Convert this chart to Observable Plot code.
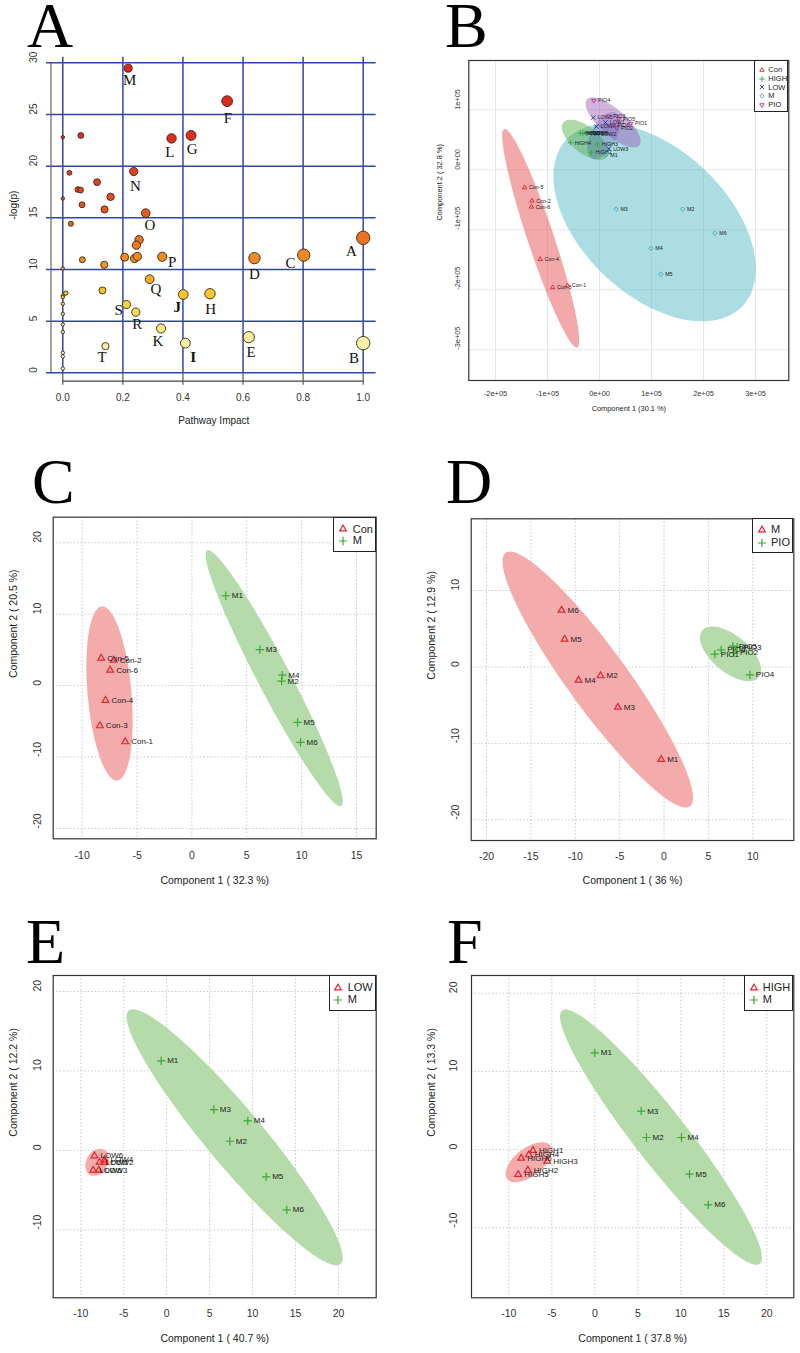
<!DOCTYPE html>
<html>
<head>
<meta charset="utf-8">
<script src="https://cdn.jsdelivr.net/npm/d3@7"></script>
<script src="https://cdn.jsdelivr.net/npm/@observablehq/plot@0.6"></script>
<style>
  body { margin: 0; background: #fff; }
  #page { position: relative; width: 800px; height: 1353px; overflow: hidden; background: #fff;
          font-family: "Liberation Sans", Arial, Helvetica, sans-serif; }
  .letter { position: absolute; font-family: "Liberation Serif", "Times New Roman", serif;
            font-size: 64px; line-height: 50px; color: #000; }
  .legend { position: absolute; box-sizing: border-box; border: 1.2px solid #222; background: #fff; }
  .legend span { position: absolute; white-space: nowrap; color: #222; line-height: 1; }
  .legend svg { position: absolute; overflow: visible; }
</style>
</head>
<body>
<div id="page"></div>
<script>
// ======================= DATA =======================
// Panel A: pathway analysis bubbles
const pathNames   = ["M","F","L","G","N","O","A","C","D","P","Q","J","H","S","R","K","E","I","B","T"];
const pathImpact  = [0.2175,0.547,0.362,0.427,0.236,0.276,1.0,0.802,0.638,0.331,0.289,0.401,0.49,0.212,0.243,0.327,0.619,0.408,1.0,0.142];
const pathLogP    = [29.48,26.29,22.68,22.97,19.48,15.45,13.06,11.39,11.1,11.23,9.06,7.58,7.65,6.61,5.87,4.29,3.45,2.87,2.87,2.58];
const pathLabelX  = [0.223,0.550,0.356,0.431,0.242,0.29,0.961,0.758,0.638,0.364,0.31,0.381,0.492,0.186,0.248,0.317,0.627,0.434,0.969,0.131];
const pathLabelY  = [28.29,24.68,21.35,21.68,18.1,14.32,11.77,10.65,9.58,10.71,8.1,6.35,6.19,6.1,4.68,3.03,2.0,1.52,1.45,1.52];
const boldLabels  = ["I","J"];
const otherImpact = [0,0.06,0.022,0.114,0.05,0.059,0.159,0,0.064,0.139,0.027,0.254,0.245,0.206,0.239,0.248,0.065,0.138,0,0.132,0.01,0,0,0,0,0,0,0,0,0];
const otherLogP   = [22.8,22.97,19.35,18.45,17.74,17.68,17.03,16.87,16.26,15.81,14.42,12.87,12.35,11.19,11.06,11.26,10.94,10.45,10.1,7.97,7.71,7.48,7.32,6.68,5.71,4.68,3.94,1.94,1.58,0.42];
const aXTicks = [0, 0.2, 0.4, 0.6, 0.8, 1.0];
const aYTicks = [0, 5, 10, 15, 20, 25, 30];

// Panel B: PCA of all five groups
const bConName  = ["Con-1","Con-2","Con-3","Con-4","Con-5","Con-6"];
const bConX     = [-61500,-130000,-90000,-114000,-144000,-131000];
const bConY     = [-193000,-51700,-196000,-149000,-29500,-61700];
const bHighName = ["HIGH1","HIGH2","HIGH3","HIGH4","HIGH5","HIGH6"];
const bHighX    = [-37000,-16000,-4000,-56000,-32000,-25000];
const bHighY    = [61000,29000,43000,45000,61000,61000];
const bLowName  = ["LOW1","LOW2","LOW3","LOW4","LOW5","LOW6"];
const bLowX     = [11500,-5000,18000,-6000,-12000,-20000];
const bLowY     = [79000,60000,35000,72000,87000,61000];
const bMName    = ["M1","M2","M3","M4","M5","M6"];
const bMX       = [12500,160000,32000,99000,118000,222000];
const bMY       = [25000,-65700,-65700,-131000,-174000,-106000];
const bPioName  = ["PIO1","PIO2","PIO3","PIO4","PIO5","PIO6"];
const bPioX     = [60000,33000,18000,-11000,37000,26000];
const bPioY     = [77000,70000,89000,115500,85000,74000];
const bXTicks = [-200000,-100000,0,100000,200000,300000];
const bXTickLabels = ["-2e+05","-1e+05","0e+00","1e+05","2e+05","3e+05"];
const bYTicks = [100000,0,-100000,-200000,-300000];
const bYTickLabels = ["1e+05","0e+00","-1e+05","-2e+05","-3e+05"];
// ellipses: [centerX, centerY, axis1 endX, axis1 endY, axis2 endX, axis2 endY]
const bEllCon  = [-113000,-114000,-183000,68000,-89000,-107000];
const bEllHigh = [-28000,50000,13500,21000,-44000,33000];
const bEllLow  = [8000,57000,21000,96000,-21000,52000];
const bEllM    = [106000,-88000,275000,-227000,9600,-176000];
const bEllPio  = [26000,79000,76000,40500,9000,63000];

// Panel C: Con vs M
const cConName = ["Con-1","Con-2","Con-3","Con-4","Con-5","Con-6"];
const cConX    = [-6.08,-7.12,-8.39,-7.88,-8.27,-7.45];
const cConY    = [-7.86,3.57,-5.62,-2.07,3.85,2.17];
const cMName   = ["M1","M2","M3","M4","M5","M6"];
const cMX      = [3.09,8.17,6.19,8.23,9.63,9.9];
const cMY      = [12.59,0.63,5.03,1.47,-5.15,-7.95];
const cXTicks  = [-10,-5,0,5,10,15];
const cYTicks  = [-20,-10,0,10,20];
const cEllCon  = [-7.51,-1.09,-8.21,11.09,-5.52,-0.83];
const cEllM    = [7.5,1.04,1.39,18.94,8.82,2.09];

// Panel D: M vs PIO
const dMName   = ["M1","M2","M3","M4","M5","M6"];
const dMX      = [-0.32,-7.15,-5.2,-9.63,-11.21,-11.55];
const dMY      = [-12.11,-1.16,-5.27,-1.74,3.62,7.42];
const dPioName = ["PIO1","PIO2","PIO3","PIO4","PIO5","PIO6"];
const dPioX    = [5.72,7.87,8.24,9.67,7.75,6.44];
const dPioY    = [1.67,1.84,2.58,-1.04,2.71,2.23];
const dXTicks  = [-20,-15,-10,-5,0,5,10];
const dYTicks  = [-20,-10,0,10];
const dEllM    = [-7.47,-1.65,-17.85,14.93,-4.74,0.67];
const dEllPio  = [7.49,1.71,10.68,-1.35,8.8,3.56];

// Panel E: LOW vs M
const eLowName = ["LOW1","LOW2","LOW3","LOW4","LOW5","LOW6"];
const eLowX    = [-7.82,-7.2,-7.9,-7.24,-8.56,-8.41];
const eLowY    = [-1.5,-1.5,-2.5,-1.2,-2.5,-0.7];
const eMName   = ["M1","M2","M3","M4","M5","M6"];
const eMX      = [-0.64,7.35,5.49,9.44,11.58,13.98];
const eMY      = [11.27,1.15,5.14,3.71,-3.34,-7.49];
const eXTicks  = [-10,-5,0,5,10,15,20];
const eYTicks  = [-10,0,10,20];
const eEllLow  = [-8.1,-1.5,-7.6,0.2,-6.82,-1.69];
const eEllM    = [7.91,1.65,-4.41,17.6,10.45,3.94];

// Panel F: HIGH vs M
const fHighName = ["HIGH1","HIGH2","HIGH3","HIGH4","HIGH5","HIGH6"];
const fHighX    = [-7.2,-7.79,-5.54,-7.67,-8.91,-8.56];
const fHighY    = [-0.12,-2.63,-1.48,-0.67,-3.18,-1.1];
const fMName    = ["M1","M2","M3","M4","M5","M6"];
const fMX       = [0,6.01,5.39,10.08,11.01,13.19];
const fMY       = [12.37,1.55,4.91,1.55,-3.14,-7.06];
const fXTicks   = [-10,-5,0,5,10,15,20];
const fYTicks   = [-10,0,10,20];
const fEllHigh  = [-7.67,-1.61,-5.15,0.52,-6.68,-3.03];
const fEllM     = [7.7,1.59,-3.79,17.78,10.12,3.66];

// ======================= STYLE =======================
const FONT  = "'Liberation Sans', Arial, Helvetica, sans-serif";
const SERIF = "'Liberation Serif', 'Times New Roman', serif";
const RED = "#E0262F", GREEN = "#3BA935", NAVY = "#28338A", TEAL = "#33A8B8", MAG = "#A8329C";
const PINK_FILL = "#F3ABAC", LGREEN_FILL = "#B4DBA9";
const aColorStops = [0, 3, 4.5, 6.5, 7.6, 9, 11, 13, 15.5, 18, 22, 30];
const aColorRange = ["#FFFFF0","#F9F1A6","#F7E57A","#F6D746","#F5C92C","#F2AF28","#EE8D24","#EA7421","#E65B1F","#E3461E","#DE2F1E","#DC231B"];

const page = document.getElementById("page");
function place(node, ox, oy) {
  node.style.position = "absolute";
  node.style.left = ox + "px";
  node.style.top = oy + "px";
  node.style.maxWidth = "none";
  page.appendChild(node);
}
function letter(t, left, top) {
  const d = document.createElement("div");
  d.className = "letter"; d.textContent = t;
  d.style.left = left + "px"; d.style.top = top + "px";
  page.appendChild(d);
}
function ellipsePts([cx, cy, ax, ay, bx, by]) {
  return d3.range(0, 360, 3).map(deg => {
    const t = deg * Math.PI / 180;
    return {x: cx + (ax - cx) * Math.cos(t) + (bx - cx) * Math.sin(t),
            y: cy + (ay - cy) * Math.cos(t) + (by - cy) * Math.sin(t)};
  });
}
const symType = {
  triangle2: d3.symbolTriangle2 || d3.symbolTriangle,
  plus: d3.symbolPlus || d3.symbolCross,
  times: d3.symbolTimes || d3.symbolCross,
  diamond2: d3.symbolDiamond2 || d3.symbolDiamond
};
function legend(c) {
  const box = document.createElement("div");
  box.className = "legend";
  Object.assign(box.style, {left: c.left + "px", top: c.top + "px", width: c.width + "px", height: c.height + "px"});
  c.items.forEach((it, i) => {
    const ry = c.rows[i] - c.top;
    const s = document.createElementNS("http://www.w3.org/2000/svg", "svg");
    s.setAttribute("width", 1); s.setAttribute("height", 1);
    s.style.left = (c.symX - c.left) + "px"; s.style.top = ry + "px";
    const p = document.createElementNS("http://www.w3.org/2000/svg", "path");
    p.setAttribute("d", d3.symbol().type(symType[it.symbol]).size(Math.PI * it.r * it.r)());
    p.setAttribute("fill", "none"); p.setAttribute("stroke", it.color);
    p.setAttribute("stroke-width", c.sw);
    if (it.rotate) p.setAttribute("transform", `rotate(${it.rotate})`);
    s.appendChild(p); box.appendChild(s);
    const t = document.createElement("span");
    t.textContent = it.label;
    t.style.fontSize = c.font + "px";
    t.style.left = (c.textX - c.left) + "px";
    t.style.top = (ry - 0.5 * c.font) + "px";
    box.appendChild(t);
  });
  page.appendChild(box);
}

// ======================= PANEL A =======================
{
  const P = {ox: 0, oy: 0, w: 400, h: 432, L: 46, T: 56.7, R: 375.6, B: 372.3};
  const named = pathNames.map((n, i) => ({name: n, impact: pathImpact[i], logp: pathLogP[i], lx: pathLabelX[i], ly: pathLabelY[i]}));
  const others = otherImpact.map((v, i) => ({impact: v, logp: otherLogP[i]}));
  const pts = others.concat(named);
  const BLUE = "#3346A8";
  const svg = Plot.plot({
    width: P.w, height: P.h,
    marginLeft: P.L - P.ox, marginTop: P.T - P.oy, marginRight: P.ox + P.w - P.R, marginBottom: P.oy + P.h - P.B,
    x: {domain: [0, 1], range: [62.3 - P.ox, 362.7 - P.ox], axis: null},
    y: {domain: [0, 30], range: [372.3 - P.oy, 62.3 - P.oy], axis: null},
    r: {type: "sqrt", domain: [0, 1], range: [1.7, 6.7]},
    color: {type: "linear", domain: aColorStops, range: aColorRange},
    style: {background: "transparent", fontFamily: FONT, overflow: "visible"},
    marks: [
      Plot.ruleY(aYTicks, {stroke: BLUE, strokeWidth: 1.5}),
      Plot.ruleX(aXTicks, {stroke: BLUE, strokeWidth: 1.5}),
      Plot.ruleX([aXTicks[0]], {y1: aYTicks[0], y2: aYTicks[aYTicks.length - 1], dx: 50.5 - 62.3, stroke: "#666", strokeWidth: 1.2}),
      Plot.ruleY([aYTicks[0]], {x1: aXTicks[0], x2: aXTicks[aXTicks.length - 1], dy: 8.4, stroke: "#444", strokeWidth: 1.2}),
      Plot.ruleX(aXTicks, {y1: aYTicks[0], y2: aYTicks[0], insetBottom: -12.5, stroke: "#555", strokeWidth: 1.2}),
      Plot.text(aXTicks, {x: d => d, text: d => d.toFixed(1), frameAnchor: "bottom", dy: 400 - P.B, fontSize: 10, fill: "#333"}),
      Plot.text(aYTicks, {y: d => d, text: d => String(d), frameAnchor: "left", dx: 33 - P.L, rotate: -90, fontSize: 10, fill: "#333"}),
      Plot.dot(pts, {x: "impact", y: "logp", r: "impact", fill: "logp", stroke: "#3a2616", strokeWidth: 0.9, sort: null}),
      Plot.text(named.filter(d => !boldLabels.includes(d.name)), {x: "lx", y: "ly", text: "name", fontFamily: SERIF, fontSize: 15, fill: "#111"}),
      Plot.text(named.filter(d => boldLabels.includes(d.name)), {x: "lx", y: "ly", text: "name", fontFamily: SERIF, fontSize: 15, fontWeight: "bold", fill: "#111"}),
      Plot.text(["Pathway Impact"], {text: d => d, frameAnchor: "bottom", dy: 423 - P.B, dx: 2.5, fontSize: 10, fill: "#222"}),
      Plot.text(["-log(p)"], {text: d => d, frameAnchor: "left", dx: 13 - P.L, dy: 4.5, rotate: -90, fontSize: 10, fill: "#222"})
    ]
  });
  place(svg, P.ox, P.oy);
}

// ======================= PCA PANELS =======================
function pca(c) {
  const marks = [];
  marks.push(Plot.ruleX(c.xTicks, {stroke: c.gridColor, strokeWidth: 1, strokeDasharray: c.gridDash}));
  marks.push(Plot.ruleY(c.yTicks, {stroke: c.gridColor, strokeWidth: 1, strokeDasharray: c.gridDash}));
  for (const e of c.ellipses) {
    marks.push(Plot.line(ellipsePts(e.p), {x: "x", y: "y", curve: "linear-closed", fill: e.fill, fillOpacity: e.opacity, stroke: "none"}));
  }
  marks.push(Plot.frame({stroke: "#333", strokeWidth: 1.2}));
  marks.push(Plot.text(c.xTicks, {x: d => d, text: c.xFmt, frameAnchor: "bottom", dy: c.xTickY - c.B, fontSize: c.tickFont, fill: "#333"}));
  marks.push(Plot.text(c.yTicks, {y: d => d, text: c.yFmt, frameAnchor: "left", dx: c.yTickX - c.L, rotate: -90, fontSize: c.tickFont, fill: "#333"}));
  marks.push(Plot.text([c.xTitle], {text: d => d, frameAnchor: "bottom", dy: c.xTitleY - c.B, fontSize: c.titleFont, fill: "#222"}));
  marks.push(Plot.text([c.yTitle], {text: d => d, frameAnchor: "left", dx: c.yTitleX - c.L, rotate: -90, fontSize: c.titleFont, fill: "#222"}));
  for (const g of c.groups) {
    const rows = g.names.map((n, i) => ({n, x: g.xs[i], y: g.ys[i]}));
    marks.push(Plot.dot(rows, {x: "x", y: "y", symbol: g.symbol, r: g.r, stroke: g.color, strokeWidth: c.sw, fill: "none", rotate: g.rotate || 0}));
    marks.push(Plot.text(rows, {x: "x", y: "y", text: "n", dx: c.labelDx, textAnchor: "start", fontSize: c.labelFont, fill: "#1a1a1a"}));
  }
  const svg = Plot.plot({
    width: c.w, height: c.h,
    marginLeft: c.L - c.ox, marginTop: c.T - c.oy, marginRight: c.ox + c.w - c.R, marginBottom: c.oy + c.h - c.B,
    x: {domain: [c.xcal[0], c.xcal[2]], range: [c.xcal[1] - c.ox, c.xcal[3] - c.ox], axis: null},
    y: {domain: [c.ycal[0], c.ycal[2]], range: [c.ycal[1] - c.oy, c.ycal[3] - c.oy], axis: null},
    style: {background: "transparent", fontFamily: FONT, overflow: "visible"},
    marks
  });
  place(svg, c.ox, c.oy);
  legend(c.legend);
}

const dotted = {gridColor: "#c9c9c9", gridDash: "1.5,2", tickFont: 10.5, titleFont: 10.5, labelFont: 8, labelDx: 6, sw: 1.2,
                xFmt: d => String(d), yFmt: d => String(d)};
const triR = 3.2, plusR = 2.8;

// ---- B ----
{
  const bTickMap = new Map(bXTicks.map((v, i) => [v, bXTickLabels[i]]));
  const bYMap = new Map(bYTicks.map((v, i) => [v, bYTickLabels[i]]));
  pca({
    ox: 400, oy: 0, w: 400, h: 420, L: 468.3, T: 60, R: 788.3, B: 380,
    xcal: [-200000, 495, 300000, 755], ycal: [100000, 109.3, -300000, 349.3],
    xTicks: bXTicks, yTicks: bYTicks, xFmt: d => bTickMap.get(d), yFmt: d => bYMap.get(d),
    gridColor: "#e6e6e6", gridDash: null, tickFont: 7.4, titleFont: 7.4, labelFont: 5.3, labelDx: 4.3, sw: 0.9,
    xTickY: 395, yTickX: 456.7, xTitleY: 410.5, yTitleX: 439,
    xTitle: "Component 1 (30.1 %)", yTitle: "Component 2 ( 32.8 %)",
    ellipses: [
      {p: bEllM, fill: "#59BBC7", opacity: 0.5},
      {p: bEllCon, fill: "#E75155", opacity: 0.5},
      {p: bEllHigh, fill: "#51AD41", opacity: 0.45},
      {p: bEllLow, fill: "#3F51B5", opacity: 0.28},
      {p: bEllPio, fill: "#934DAD", opacity: 0.42}
    ],
    groups: [
      {names: bConName, xs: bConX, ys: bConY, color: RED, symbol: "triangle2", r: 2.1},
      {names: bMName, xs: bMX, ys: bMY, color: TEAL, symbol: "diamond2", r: 2.0},
      {names: bHighName, xs: bHighX, ys: bHighY, color: GREEN, symbol: "plus", r: 1.9},
      {names: bLowName, xs: bLowX, ys: bLowY, color: NAVY, symbol: "times", r: 2.1},
      {names: bPioName, xs: bPioX, ys: bPioY, color: MAG, symbol: "triangle2", r: 2.1, rotate: 180}
    ],
    legend: {left: 754, top: 60, width: 34.3, height: 52, font: 7.5, sw: 0.9,
             rows: [69, 77.7, 86.3, 95, 103.7], symX: 760.7, textX: 767.3,
             items: [
               {label: "Con", color: RED, symbol: "triangle2", r: 2.1},
               {label: "HIGH", color: GREEN, symbol: "plus", r: 1.9},
               {label: "LOW", color: NAVY, symbol: "times", r: 2.1},
               {label: "M", color: TEAL, symbol: "diamond2", r: 2.0},
               {label: "PIO", color: MAG, symbol: "triangle2", r: 2.1, rotate: 180}
             ]}
  });
}

// ---- C ----
pca(Object.assign({}, dotted, {
  ox: 0, oy: 440, w: 400, h: 450, L: 52.7, T: 516.7, R: 375.7, B: 838.3,
  xcal: [-10, 81.7, 15, 356], ycal: [20, 542.3, -20, 828],
  xTicks: cXTicks, yTicks: cYTicks,
  xTickY: 858, yTickX: 36.7, xTitleY: 883, yTitleX: 12.7,
  xTitle: "Component 1 ( 32.3 %)", yTitle: "Component 2 ( 20.5 %)",
  ellipses: [{p: cEllCon, fill: PINK_FILL, opacity: 1}, {p: cEllM, fill: LGREEN_FILL, opacity: 1}],
  groups: [
    {names: cConName, xs: cConX, ys: cConY, color: RED, symbol: "triangle2", r: triR},
    {names: cMName, xs: cMX, ys: cMY, color: GREEN, symbol: "plus", r: plusR}
  ],
  legend: {left: 333.3, top: 516.7, width: 42.4, height: 35, font: 11, sw: 1.2,
           rows: [528.3, 540], symX: 342.3, textX: 351.7,
           items: [{label: "Con", color: RED, symbol: "triangle2", r: triR}, {label: "M", color: GREEN, symbol: "plus", r: plusR}]}
}));

// ---- D ----
pca(Object.assign({}, dotted, {
  ox: 400, oy: 440, w: 400, h: 450, L: 470.7, T: 518.3, R: 793.3, B: 840,
  xcal: [-20, 486, 10, 752.3], ycal: [10, 590, -20, 819.3],
  xTicks: dXTicks, yTicks: dYTicks,
  xTickY: 859.3, yTickX: 455, xTitleY: 883, yTitleX: 430.7,
  xTitle: "Component 1 ( 36 %)", yTitle: "Component 2 ( 12.9 %)",
  ellipses: [{p: dEllM, fill: PINK_FILL, opacity: 1}, {p: dEllPio, fill: LGREEN_FILL, opacity: 1}],
  groups: [
    {names: dMName, xs: dMX, ys: dMY, color: RED, symbol: "triangle2", r: triR},
    {names: dPioName, xs: dPioX, ys: dPioY, color: GREEN, symbol: "plus", r: plusR}
  ],
  legend: {left: 752.3, top: 518.3, width: 41, height: 35, font: 11, sw: 1.2,
           rows: [529, 541.7], symX: 761, textX: 770,
           items: [{label: "M", color: RED, symbol: "triangle2", r: triR}, {label: "PIO", color: GREEN, symbol: "plus", r: plusR}]}
}));

// ---- E ----
pca(Object.assign({}, dotted, {
  ox: 0, oy: 900, w: 400, h: 453, L: 52.7, T: 975, R: 375.7, B: 1297.3,
  xcal: [-10, 80.3, 20, 338], ycal: [20, 991, -10, 1229.3],
  xTicks: eXTicks, yTicks: eYTicks,
  xTickY: 1316.7, yTickX: 36.7, xTitleY: 1341.7, yTitleX: 12.7,
  xTitle: "Component 1 ( 40.7 %)", yTitle: "Component 2 ( 12.2 %)",
  ellipses: [{p: eEllLow, fill: PINK_FILL, opacity: 1}, {p: eEllM, fill: LGREEN_FILL, opacity: 1}],
  groups: [
    {names: eLowName, xs: eLowX, ys: eLowY, color: RED, symbol: "triangle2", r: triR},
    {names: eMName, xs: eMX, ys: eMY, color: GREEN, symbol: "plus", r: plusR}
  ],
  legend: {left: 328.7, top: 975, width: 47, height: 35.7, font: 11, sw: 1.2,
           rows: [986.7, 998.7], symX: 337.3, textX: 346.7,
           items: [{label: "LOW", color: RED, symbol: "triangle2", r: triR}, {label: "M", color: GREEN, symbol: "plus", r: plusR}]}
}));

// ---- F ----
pca(Object.assign({}, dotted, {
  ox: 400, oy: 900, w: 400, h: 453, L: 471, T: 975, R: 793.3, B: 1297.3,
  xcal: [-10, 508.3, 20, 766.3], ycal: [20, 992.7, -10, 1227.3],
  xTicks: fXTicks, yTicks: fYTicks,
  xTickY: 1316.7, yTickX: 453.3, xTitleY: 1341.7, yTitleX: 430.7,
  xTitle: "Component 1 ( 37.8 %)", yTitle: "Component 2 ( 13.3 %)",
  ellipses: [{p: fEllHigh, fill: PINK_FILL, opacity: 1}, {p: fEllM, fill: LGREEN_FILL, opacity: 1}],
  groups: [
    {names: fHighName, xs: fHighX, ys: fHighY, color: RED, symbol: "triangle2", r: triR},
    {names: fMName, xs: fMX, ys: fMY, color: GREEN, symbol: "plus", r: plusR}
  ],
  legend: {left: 744, top: 975, width: 49.3, height: 35.7, font: 11, sw: 1.2,
           rows: [986.7, 998.7], symX: 752.7, textX: 761.7,
           items: [{label: "HIGH", color: RED, symbol: "triangle2", r: triR}, {label: "M", color: GREEN, symbol: "plus", r: plusR}]}
}));

// ======================= PANEL LETTERS =======================
letter("A", 27, 1.4);
letter("B", 445, 1.4);
letter("C", 32, 457.4);
letter("D", 446, 457.4);
letter("E", 26, 917.4);
letter("F", 447, 917.4);
</script>
</body>
</html>
